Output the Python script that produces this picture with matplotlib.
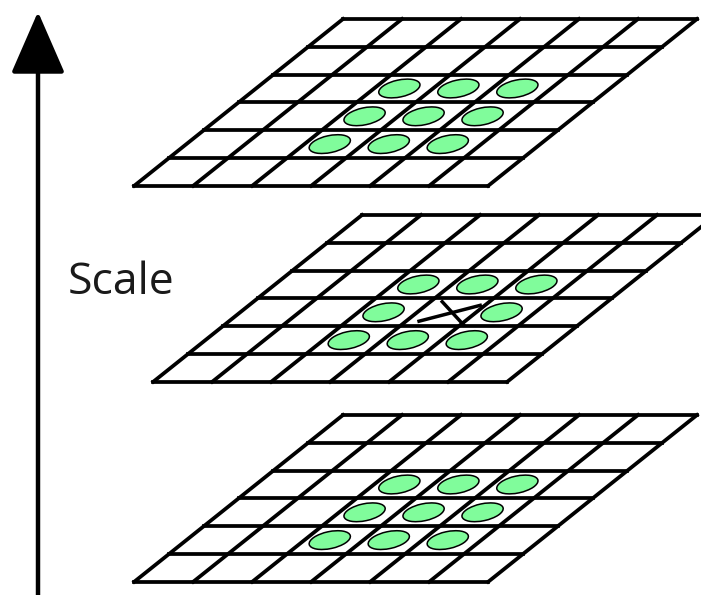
import numpy as np
import matplotlib.pyplot as plt
from matplotlib.patches import Ellipse

# diagram content
scale_levels = ["above", "current", "below"]   # top to bottom
grid_cols = 6
grid_rows = 6
sample_col, sample_row = 3, 3                  # cell of the sample point
neighbour_offsets = [(dc, dr) for dr in (-1, 0, 1) for dc in (-1, 0, 1)]
axis_label = "Scale"

# layout in pixels (figure is 701 x 595)
W, H = 701, 595
layer_origin = {"above": (343, 19), "current": (362, 215), "below": (343, 415)}
cell_w = 59.0
row_h = 27.8
skew = 34.8  # x shift per row

fig = plt.figure(figsize=(W / 100, H / 100), dpi=100)
ax = fig.add_axes([0, 0, 1, 1])
ax.set_xlim(0, W)
ax.set_ylim(H, 0)
ax.axis("off")


def to_px(x0, y0, u, v):
    return x0 + u * cell_w - v * skew, y0 + v * row_h


for level in scale_levels:
    x0, y0 = layer_origin[level]
    # horizontal lines
    for r in range(grid_rows + 1):
        xa, ya = to_px(x0, y0, 0, r)
        xb, yb = to_px(x0, y0, grid_cols, r)
        ax.plot([xa, xb], [ya, yb], color="black", lw=2.7, solid_capstyle="projecting")
    # slanted lines
    for c in range(grid_cols + 1):
        xa, ya = to_px(x0, y0, c, 0)
        xb, yb = to_px(x0, y0, c, grid_rows)
        ax.plot([xa, xb], [ya, yb], color="black", lw=2.7, solid_capstyle="projecting")

    # neighbour blobs
    for dc, dr in neighbour_offsets:
        if level == "current" and dc == 0 and dr == 0:
            continue
        cx, cy = to_px(x0, y0, sample_col + dc + 0.43, sample_row + dr + 0.5)
        ax.add_patch(Ellipse((cx, cy), 42, 17, angle=-12, facecolor="#80FC9B",
                             edgecolor="black", lw=1.1, zorder=3))

    # the sample point, marked with an X
    if level == "current":
        for (ua, va), (ub, vb) in [((0.2, 0.12), (1.05, 0.95)), ((0.22, 0.82), (0.92, 0.25))]:
            xa, ya = to_px(x0, y0, sample_col + ua, sample_row + va)
            xb, yb = to_px(x0, y0, sample_col + ub, sample_row + vb)
            ax.plot([xa, xb], [ya, yb], color="black", lw=2.5, zorder=4)

# scale axis arrow
ax.annotate("", xy=(38, 9), xytext=(38, H + 5),
            arrowprops=dict(arrowstyle="-|>,head_length=3.9,head_width=1.7",
                            color="black", lw=3.2))
ax.text(68, 294, axis_label, fontsize=32, family=["Open Sans", "DejaVu Sans"],
        ha="left", va="baseline", color="#1a1a1a")

fig.savefig("out.png", dpi=100, facecolor="white")
